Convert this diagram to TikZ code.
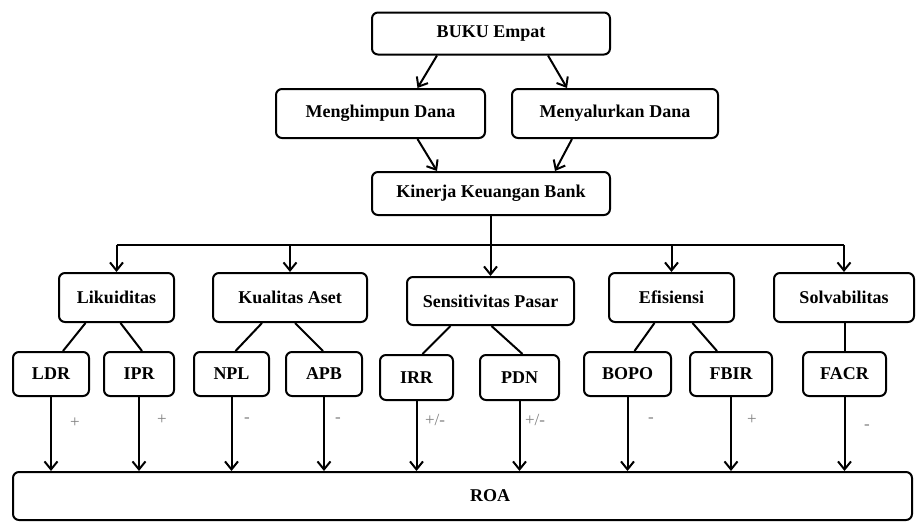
\documentclass[tikz,border=0pt]{standalone}
\usepackage{fontspec}
\setmainfont{Liberation Serif}
\usetikzlibrary{arrows.meta}

\begin{document}
\begin{tikzpicture}[x=1pt, y=-1pt, >={Straight Barb[length=8pt,width=13pt,line width=2pt]},
  box/.style={draw, line width=2pt, rounded corners=6pt, inner sep=0pt,
    font=\fontsize{18}{21}\selectfont\bfseries},
  sign/.style={text=black!50, font=\fontsize{17}{19}\selectfont},
  link/.style={line width=2pt}]
  \useasboundingbox (0,0) rectangle (919,523);
  % ------------------------------------------------------------------ top
  \node[box, minimum width=238, minimum height=42] (buku) at (491,33.5) {BUKU Empat};
  \node[box, minimum width=209, minimum height=49] (himpun) at (380.5,113.5) {Menghimpun Dana};
  \node[box, minimum width=206, minimum height=49] (salur) at (615,113.5) {Menyalurkan Dana};
  \node[box, minimum width=238, minimum height=43] (kinerja) at (491,193.5) {Kinerja Keuangan Bank};
  \draw[link,->] ([xshift=-54pt]buku.south) -- ([xshift=37pt]himpun.north);
  \draw[link,->] ([xshift=57pt]buku.south) -- ([xshift=-48pt]salur.north);
  \draw[link,->] ([xshift=37pt]himpun.south) -- ([xshift=-54pt]kinerja.north);
  \draw[link,->] ([xshift=-43pt]salur.south) -- ([xshift=64pt]kinerja.north);
  % ------------------------------------------------------------------ the five ratios
  \node[box, minimum width=115, minimum height=49] (lik) at (116.5,297.5) {Likuiditas};
  \node[box, minimum width=154, minimum height=49] (kual) at (290,297.5) {Kualitas Aset};
  \node[box, minimum width=167, minimum height=48] (sens) at (490.5,301) {Sensitivitas Pasar};
  \node[box, minimum width=125, minimum height=49] (efi) at (671.5,297.5) {Efisiensi};
  \node[box, minimum width=140, minimum height=49] (solv) at (844,297.5) {Solvabilitas};
  \coordinate (bar) at (491,245);
  \draw[link] (kinerja.south) -- (bar);
  \draw[link] (lik.north |- bar) -- (solv.north |- bar);
  \foreach \c in {lik,kual,sens,efi,solv}
    \draw[link,->] (\c.north |- bar) -- (\c.north);
  % ------------------------------------------------------------------ the indicators
  \node[box, minimum width=76, minimum height=44] (ldr) at (51,374) {LDR};
  \node[box, minimum width=70, minimum height=44] (ipr) at (139,374) {IPR};
  \node[box, minimum width=75, minimum height=44] (npl) at (231.5,374) {NPL};
  \node[box, minimum width=76, minimum height=44] (apb) at (324,374) {APB};
  \node[box, minimum width=73, minimum height=45] (irr) at (416.5,377.5) {IRR};
  \node[box, minimum width=79, minimum height=45] (pdn) at (519.5,377.5) {PDN};
  \node[box, minimum width=87, minimum height=44] (bopo) at (627.5,374) {BOPO};
  \node[box, minimum width=82, minimum height=44] (fbir) at (731,374) {FBIR};
  \node[box, minimum width=83, minimum height=44] (facr) at (844.5,374) {FACR};
  \draw[link] ([xshift=-31pt]lik.south) -- ([xshift=12pt]ldr.north);
  \draw[link] ([xshift=4pt]lik.south) -- ([xshift=3pt]ipr.north);
  \draw[link] ([xshift=-28pt]kual.south) -- ([xshift=4pt]npl.north);
  \draw[link] ([xshift=5pt]kual.south) -- ([xshift=-1pt]apb.north);
  \draw[link] ([xshift=-40pt]sens.south) -- ([xshift=6pt]irr.north);
  \draw[link] ([xshift=1pt]sens.south) -- ([xshift=3pt]pdn.north);
  \draw[link] ([xshift=-17pt]efi.south) -- ([xshift=7pt]bopo.north);
  \draw[link] ([xshift=21pt]efi.south) -- ([xshift=-14pt]fbir.north);
  \draw[link] (solv.south -| facr.north) -- (facr.north);
  % ------------------------------------------------------------------ ROA
  \node[box, minimum width=899, minimum height=48] (roa) at (462.5,496) {\hspace*{55pt}ROA};
  \foreach \s in {ldr,ipr,npl,apb,irr,pdn,bopo,fbir,facr}
    \draw[link,->] (\s.south) -- (\s.south |- roa.north);
  \node[sign] (sldr) at (75,423) {+};
  \node[sign] (sipr) at (162,420) {+};
  \node[sign] (snpl) at (247,420) {-};
  \node[sign] (sapb) at (338,420) {-};
  \node[sign] (sirr) at (435,420) {+/-};
  \node[sign] (spdn) at (535,420) {+/-};
  \node[sign] (sbopo) at (651,420) {-};
  \node[sign] (sfbir) at (752,420) {+};
  \node[sign] (sfacr) at (867,427) {-};
\end{tikzpicture}
\end{document}
